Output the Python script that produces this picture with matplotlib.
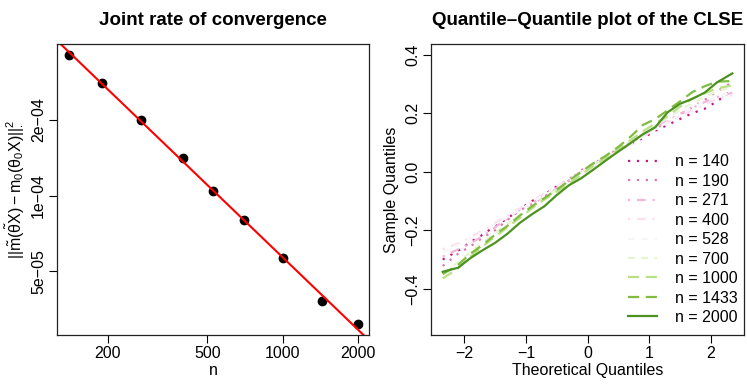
import numpy as np
import matplotlib
matplotlib.use("Agg")
import matplotlib.pyplot as plt

plt.rcParams['font.family'] = ['Liberation Sans', 'DejaVu Sans']
plt.rcParams['mathtext.fontset'] = 'custom'
plt.rcParams['mathtext.rm'] = 'Liberation Sans'
plt.rcParams['mathtext.it'] = 'Liberation Sans'
plt.rcParams['mathtext.bf'] = 'Liberation Sans:bold'

# left panel: error vs sample size
n_sizes = [140, 190, 271, 400, 528, 700, 1000, 1433, 2000]
errors = [3.63e-4, 2.79e-4, 1.99e-4, 1.41e-4, 1.04e-4, 7.96e-5, 5.63e-5, 3.80e-5, 3.08e-5]

# right panel: qq lines
theo_q = [-2.35, -2.1, -1.9, -1.7, -1.5, -1.3, -1.1, -0.9, -0.7, -0.5, -0.3, -0.1,
          0.1, 0.3, 0.5, 0.7, 0.9, 1.1, 1.3, 1.5, 1.7, 1.9, 2.1, 2.35]
q140 = [-0.30, -0.27, -0.24, -0.215, -0.185, -0.16, -0.128, -0.10, -0.078, -0.05, -0.025, 0.0,
        0.025, 0.05, 0.072, 0.095, 0.115, 0.14, 0.16, 0.18, 0.20, 0.215, 0.24, 0.28]
q190 = [-0.322, -0.28, -0.255, -0.225, -0.20, -0.165, -0.132, -0.11, -0.085, -0.058, -0.03, 0.005,
        0.028, 0.052, 0.078, 0.10, 0.125, 0.148, 0.17, 0.195, 0.22, 0.245, 0.275, 0.305]
q271 = [-0.29, -0.265, -0.245, -0.22, -0.19, -0.16, -0.13, -0.108, -0.082, -0.055, -0.03, 0.0,
        0.025, 0.05, 0.075, 0.10, 0.125, 0.15, 0.175, 0.198, 0.218, 0.238, 0.255, 0.27]
q400 = [-0.265, -0.245, -0.225, -0.20, -0.175, -0.15, -0.125, -0.10, -0.075, -0.05, -0.025, 0.0,
        0.025, 0.05, 0.072, 0.098, 0.12, 0.145, 0.168, 0.19, 0.21, 0.23, 0.25, 0.262]
q528 = [-0.275, -0.25, -0.23, -0.205, -0.18, -0.155, -0.13, -0.105, -0.08, -0.055, -0.03, -0.005,
        0.02, 0.045, 0.07, 0.095, 0.12, 0.145, 0.17, 0.195, 0.22, 0.24, 0.26, 0.27]
q700 = [-0.345, -0.31, -0.275, -0.24, -0.21, -0.178, -0.15, -0.118, -0.09, -0.06, -0.035, -0.005,
        0.022, 0.05, 0.078, 0.105, 0.13, 0.158, 0.185, 0.21, 0.235, 0.255, 0.275, 0.29]
q1000 = [-0.365, -0.33, -0.29, -0.255, -0.222, -0.19, -0.158, -0.125, -0.095, -0.068, -0.04, -0.01,
         0.02, 0.048, 0.078, 0.108, 0.138, 0.165, 0.19, 0.222, 0.25, 0.268, 0.285, 0.295]
q1433 = [-0.35, -0.318, -0.28, -0.25, -0.215, -0.185, -0.15, -0.118, -0.09, -0.062, -0.03, 0.0,
         0.03, 0.055, 0.085, 0.12, 0.16, 0.18, 0.21, 0.24, 0.272, 0.292, 0.308, 0.31]
q2000 = [-0.342, -0.328, -0.295, -0.268, -0.243, -0.212, -0.175, -0.145, -0.118, -0.08, -0.046, -0.022,
         0.008, 0.039, 0.069, 0.098, 0.128, 0.152, 0.203, 0.232, 0.249, 0.27, 0.305, 0.336]
qq_series = [q140, q190, q271, q400, q528, q700, q1000, q1433, q2000]
qq_labels = ['n = 140', 'n = 190', 'n = 271', 'n = 400', 'n = 528', 'n = 700',
             'n = 1000', 'n = 1433', 'n = 2000']
colors = ['#C51B7D', '#DE77AE', '#F1B6DA', '#FDE0EF', '#F7F7F7', '#E6F5D0',
          '#B8E186', '#7FBC41', '#4D9221']
styles = [(0, (1, 3)), (0, (1, 3)), (0, (1, 3, 4, 3)), (0, (1, 3, 4, 3)),
          (0, (3, 3)), (0, (3, 3)), (0, (5, 3)), (0, (5, 3)), '-']

fig = plt.figure(figsize=(7.47, 3.84), dpi=100)
ax1 = fig.add_axes([0.0763, 0.1276, 0.4177, 0.7578])
ax2 = fig.add_axes([0.577, 0.1276, 0.419, 0.7578])

fs = 11.5

# ---- left
ax1.set_xscale('log')
ax1.set_yscale('log')
ax1.plot(n_sizes, errors, 'o', color='black', ms=6)
b, a = np.polyfit(np.log10(n_sizes), np.log10(errors), 1)
xx = np.array([100, 3000])
ax1.plot(xx, 10 ** (a + b * np.log10(xx)), color='red', lw=1.5)
ax1.set_xlim(125, 2220)
ax1.set_ylim(2.79e-5, 4.0e-4)
ax1.set_xticks([200, 500, 1000, 2000])
ax1.set_xticklabels(['200', '500', '1000', '2000'])
ax1.set_yticks([5e-5, 1e-4, 2e-4])
ax1.set_yticklabels(['5e\u221205', '1e\u221204', '2e\u221204'], rotation=90, va='center')
ax1.minorticks_off()
ax1.set_xlabel('n', fontsize=fs, labelpad=1)
ax1.set_ylabel(r'$||\tilde{m}(\tilde{\theta}X)-m_0(\theta_0X)||_{\bullet}^{2}$', fontsize=fs, labelpad=4)
ax1.set_title('Joint rate of convergence', fontsize=13.5, fontweight='bold', pad=14)

# ---- right
for ys, lab, c, ls in zip(qq_series, qq_labels, colors, styles):
    ax2.plot(theo_q, ys, color=c, ls=ls, lw=1.6, label=lab)
ax2.set_xlim(-2.54, 2.54)
ax2.set_ylim(-0.558, 0.4365)
ax2.set_xticks([-2, -1, 0, 1, 2])
ax2.set_yticks([-0.4, -0.2, 0.0, 0.2, 0.4])
ax2.set_yticklabels(['\u22120.4', '\u22120.2', '0.0', '0.2', '0.4'], rotation=90, va='center')
ax2.set_xlabel('Theoretical Quantiles', fontsize=fs, labelpad=1)
ax2.set_ylabel('Sample Quantiles', fontsize=fs, labelpad=4)
ax2.set_title('Quantile\u2013Quantile plot of the CLSE', fontsize=13.5, fontweight='bold', pad=14)
ax2.legend(loc='lower right', frameon=False, fontsize=fs, handlelength=1.8,
           labelspacing=0.28, handletextpad=1.1, bbox_to_anchor=(1.025, -0.015))

for ax in (ax1, ax2):
    ax.tick_params(labelsize=fs, length=6, width=0.8, pad=2)
    for s in ax.spines.values():
        s.set_linewidth(0.9)
        s.set_color('#222222')

fig.savefig('out.png', dpi=100)
